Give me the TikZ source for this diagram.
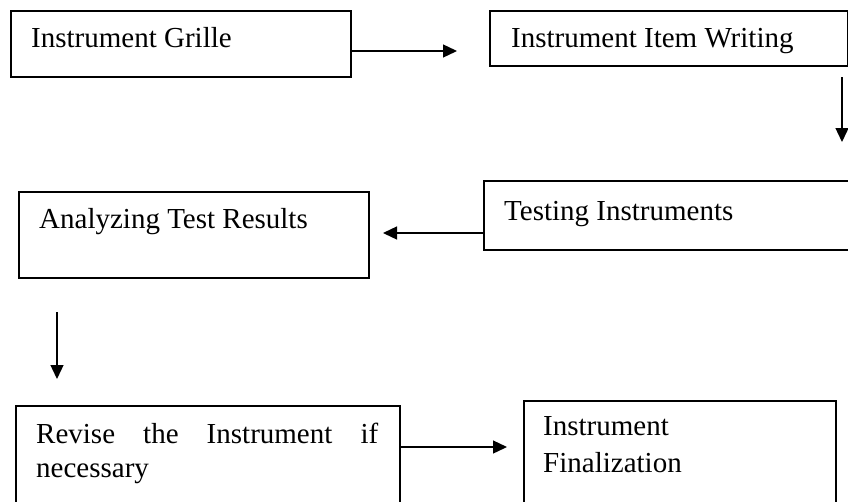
\documentclass[tikz,border=0pt]{standalone}
\usepackage{fontspec}
\setmainfont{Liberation Serif}
\usetikzlibrary{arrows.meta}
\tikzset{
  box/.style={draw=black, line width=1.6pt, rectangle, inner sep=0pt, anchor=north west},
  lbl/.style={anchor=base west, inner sep=0pt, font=\fontsize{29}{35}\selectfont},
  arr/.style={draw=black, line width=1.3pt, -{Triangle[length=14pt,width=13pt]}}
}
\begin{document}
\begin{tikzpicture}[x=1pt,y=-1pt]
\clip (0,0) rectangle (848,501);
\fill[white] (0,0) rectangle (848,501);
% boxes
\node[box, minimum width=340pt, minimum height=66pt] (b1) at (10,10) {};
\node[box, minimum width=358pt, minimum height=55pt] (b2) at (489,10) {};
\node[box, minimum width=380pt, minimum height=69pt] (b3) at (483,180) {};
\node[box, minimum width=350pt, minimum height=86pt] (b4) at (18,191) {};
\node[box, minimum width=384pt, minimum height=120pt] (b5) at (15,405) {};
\node[box, minimum width=312pt, minimum height=120pt] (b6) at (523,400) {};
% texts
\node[lbl] (t1) at (31,47) {Instrument Grille};
\node[lbl] (t2) at (511,47) {Instrument Item Writing};
\node[lbl] (t3) at (504,220) {Testing Instruments};
\node[lbl] (t4) at (39,228) {Analyzing Test Results};
\node[lbl] (t5a) at (36,443) {\makebox[342pt][s]{Revise the Instrument if}};
\node[lbl] (t5b) at (36,477) {necessary};
\node[lbl] (t6a) at (543,435) {Instrument};
\node[lbl] (t6b) at (543,472) {Finalization};
% connector end points
\coordinate (a1) at (457,51);
\coordinate (v1s) at (842,77);
\coordinate (v1e) at (842,142);
\coordinate (a3) at (383,233);
\coordinate (v2s) at (57,312);
\coordinate (v2e) at (57,379);
\coordinate (a5) at (507,447);
% connectors
\draw[arr] (b1.east |- a1) -- (a1);
\draw[arr] (v1s) -- (v1e);
\draw[arr] (b3.west |- a3) -- (a3);
\draw[arr] (v2s) -- (v2e);
\draw[arr] (b5.east |- a5) -- (a5);
\end{tikzpicture}
\end{document}
